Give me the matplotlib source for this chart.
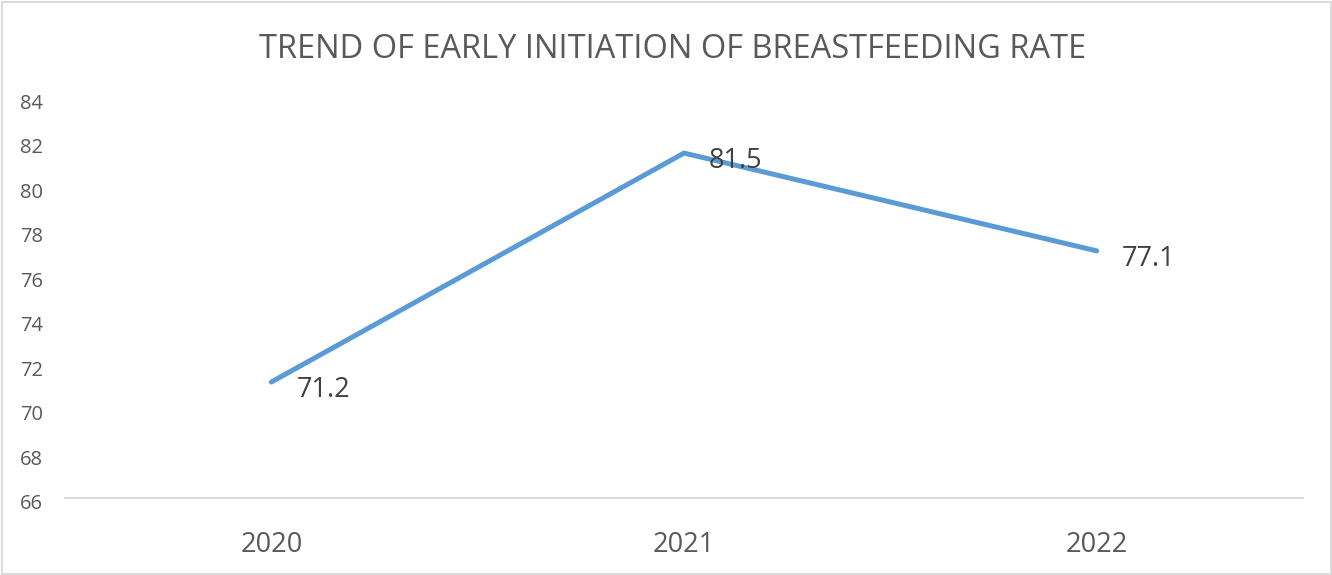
import matplotlib
matplotlib.use("Agg")
import matplotlib.pyplot as plt
from matplotlib.patches import Rectangle
from matplotlib.transforms import ScaledTranslation

years = ["2020", "2021", "2022"]
rates = [71.2, 81.5, 77.1]
y_ticks = [66, 68, 70, 72, 74, 76, 78, 80, 82, 84]

plt.rcParams["font.family"] = ["Open Sans", "DejaVu Sans"]

W, H = 1332, 575
fig = plt.figure(figsize=(W / 100, H / 100), dpi=100)
ax = fig.add_axes([65 / W, (H - 497.6) / H, (1303 - 65) / W, (497.6 - 97.5) / H])

xs = list(range(len(years)))
ax.plot(xs, rates, color="#5B9BD5", linewidth=3.6, solid_capstyle="round",
        solid_joinstyle="miter")
for x, v in zip(xs, rates):
    ax.annotate(f"{v}", (x, v), xytext=(18, -6), textcoords="offset points",
                ha="left", va="center", fontsize=19.5, color="#404040")

ax.set_xlim(-0.5, len(years) - 0.5)
ax.set_ylim(y_ticks[0], y_ticks[-1])
ax.set_xticks(xs)
ax.set_xticklabels(years)
ax.set_yticks(y_ticks)
ax.tick_params(axis="x", length=0, pad=24, labelsize=19.5, labelcolor="#595959")
ax.tick_params(axis="y", length=0, pad=16, labelsize=14.5, labelcolor="#595959")
# excel draws the value labels a few pixels below their gridline
shift = ScaledTranslation(0, -4 / 100, fig.dpi_scale_trans)
for lbl in ax.get_yticklabels():
    lbl.set_transform(lbl.get_transform() + shift)
for side in ["top", "right", "left"]:
    ax.spines[side].set_visible(False)
ax.spines["bottom"].set_color("#D9D9D9")
ax.spines["bottom"].set_linewidth(1.3)

fig.text(673 / W, 1 - 49 / H, "TREND OF EARLY INITIATION OF BREASTFEEDING RATE",
         ha="center", va="center", fontsize=23.5, color="#595959")

fig.patches.append(Rectangle((1.5 / W, 1.5 / H), (W - 3) / W, (H - 3) / H,
                             transform=fig.transFigure, fill=False,
                             edgecolor="#D9D9D9", linewidth=1.3))

fig.savefig("out.png", dpi=100)
